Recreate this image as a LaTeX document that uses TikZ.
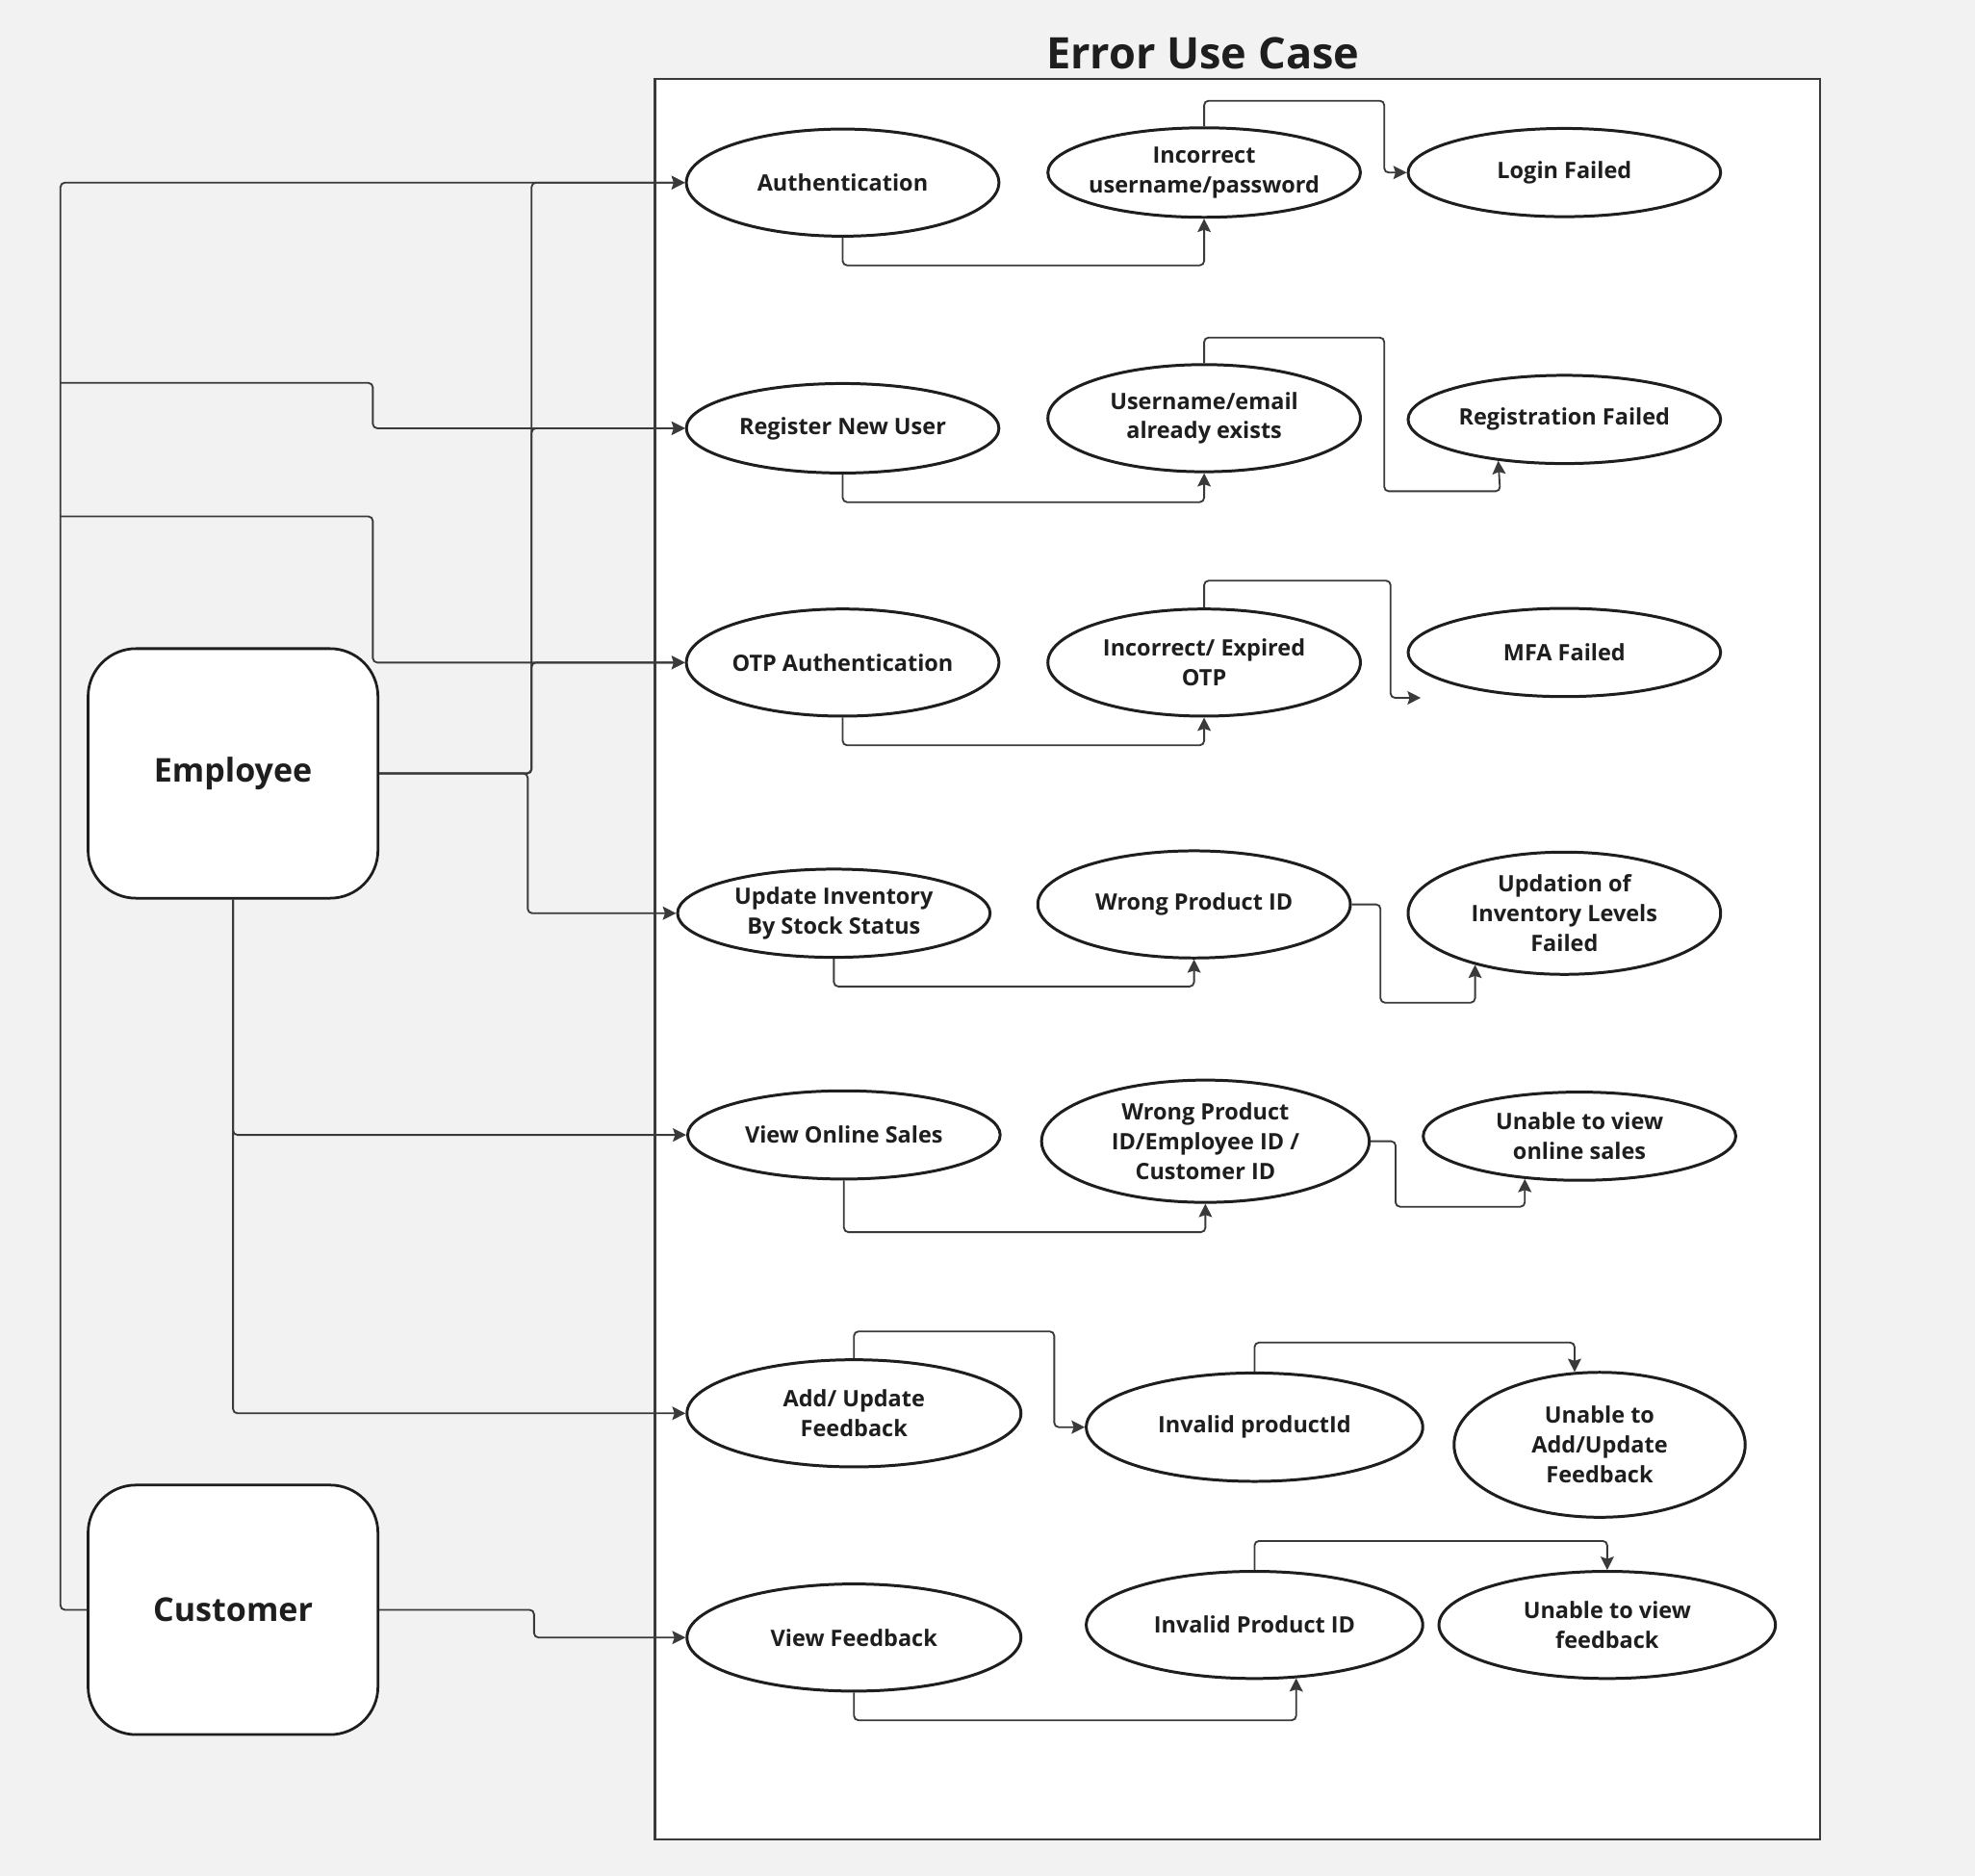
\documentclass[tikz,border=0pt]{standalone}
\usepackage{fontspec}
\setmainfont{Open Sans}
\usetikzlibrary{shapes.geometric,arrows.meta}
\definecolor{bgcol}{HTML}{F2F2F2}
\definecolor{linecol}{HTML}{3A3A3A}
\definecolor{inkcol}{HTML}{1E1E1E}

\begin{document}
\begin{tikzpicture}[x=0.01cm, y=-0.01cm,
  usecase/.style={ellipse, draw=inkcol, line width=0.65pt, fill=white, minimum width=2.48cm, minimum height=0.85cm, inner xsep=-8pt, inner ysep=-5pt, align=center, font=\fontsize{5.1}{6.7}\selectfont\bfseries, text=inkcol},
  actor/.style={rectangle, rounded corners=0.38cm, draw=inkcol, line width=0.6pt, fill=white, minimum width=2.3cm, minimum height=1.98cm, font=\fontsize{7.4}{9}\selectfont\bfseries, text=inkcol},
  link/.style={draw=linecol, line width=0.4pt, rounded corners=1pt, -{Stealth[length=3pt,width=3pt,inset=0.5pt]}}]

\fill[bgcol] (0,0) rectangle (1568,1489);
\useasboundingbox (0,0) rectangle (1568,1489);
% system boundary
\draw[linecol, line width=0.45pt, fill=white] (520,63) rectangle (1445,1460);
\node[font=\fontsize{9.8}{12}\selectfont\bfseries, text=inkcol] (title) at (955,42) {Error Use Case};

% actors
\node[actor] (emp) at (185,614) {Employee};
\node[actor] (cust) at (185,1278) {Customer};

% use cases
\node[usecase] (auth) at (669,145) {Authentication};
\node[usecase, minimum height=0.71cm] (wrongpw) at (956,137) {Incorrect\\username/password};
\node[usecase, minimum height=0.70cm] (loginfail) at (1242,137) {Login Failed};
\node[usecase, minimum height=0.71cm] (reg) at (669,340) {Register New User};
\node[usecase] (exists) at (956,332) {Username/email\\already exists};
\node[usecase, minimum height=0.70cm] (regfail) at (1242,333) {Registration Failed};
\node[usecase] (otp) at (669,526) {OTP Authentication};
\node[usecase] (badotp) at (956,526) {Incorrect/ Expired\\OTP};
\node[usecase, minimum height=0.70cm] (mfafail) at (1242,518) {MFA Failed};
\node[usecase, minimum height=0.70cm] (inv) at (662,725) {Update Inventory\\By Stock Status};
\node[usecase] (wrongid) at (948,718) {Wrong Product ID};
\node[usecase, minimum height=0.97cm] (invfail) at (1242,725) {Updation of\\Inventory Levels\\Failed};
\node[usecase, minimum height=0.70cm] (sales) at (670,901) {View Online Sales};
\node[usecase, minimum width=2.6cm, minimum height=0.97cm] (wrongids) at (957,906) {Wrong Product\\ID/Employee ID /\\Customer ID};
\node[usecase, minimum height=0.70cm] (salesfail) at (1254,902) {Unable to view\\online sales};
\node[usecase, minimum width=2.65cm] (addfb) at (678,1122) {Add/ Update\\Feedback};
\node[usecase, minimum width=2.67cm, minimum height=0.86cm] (badpid) at (996,1133) {Invalid productId};
\node[usecase, minimum width=2.31cm, minimum height=1.15cm] (addfail) at (1270,1147) {Unable to\\Add/Update\\Feedback};
\node[usecase, minimum width=2.65cm] (viewfb) at (678,1300) {View Feedback};
\node[usecase, minimum width=2.67cm] (badpid2) at (996,1290) {Invalid Product ID};
\node[usecase, minimum width=2.67cm] (viewfail) at (1276,1290) {Unable to view\\feedback};

% employee links
\coordinate (ebus) at (422,614);
\draw[link] (emp.east) -- (ebus) |- (auth.west);
\draw[link] (emp.east) -- (ebus) |- (reg.west);
\draw[link] (emp.east) -- (ebus) |- (otp.west);
\draw[link] (emp.east) -- (419,614) |- (inv.west);
\draw[link] (emp.south) |- (sales.west);
\draw[link] (emp.south) |- (addfb.west);

% customer links
\coordinate (cbus) at (48,1278);
\coordinate (ctap1) at (48,304);
\coordinate (ctap2) at (48,410);
\draw[link] (cust.west) -- (cbus) |- (auth.west);
\draw[link] (ctap1) -- (296,304) |- (reg.west);
\draw[link] (ctap2) -- (296,410) |- (otp.west);
\draw[link] (cust.east) -- (424,1278) |- (viewfb.west);

% error paths
\coordinate (mfaend) at (1128,554);
\draw[link] (auth.south) -- ++(0,22) -| (wrongpw.south);
\draw[link] (wrongpw.north) |- (1099,80) |- (loginfail.west);
\draw[link] (reg.south) -- ++(0,22) -| (exists.south);
\draw[link] (exists.north) |- (1099,268) |- (1191,390) -- (regfail.212);
\draw[link] (otp.south) -- ++(0,22) -| (badotp.south);
\draw[link] (badotp.north) |- (1104,461) |- (mfaend);
\draw[link] (inv.south) -- ++(0,22) -| (wrongid.south);
\draw[link] (wrongid.east) -| (1096,796) -| (invfail.210);
\draw[link] (sales.south) -- ++(0,41) -| (wrongids.south);
\draw[link] (wrongids.east) -| (1108,958) -| (salesfail.218);
\draw[link] (addfb.north) |- (837,1057) |- (badpid.west);
\draw[link] (badpid.north) -- ++(0,-23) -| (addfail.109.5);
\draw[link] (viewfb.south) -- ++(0,22) -| (badpid2.308.7);
\draw[link] (badpid2.north) -- ++(0,-23) -| (viewfail.north);
\end{tikzpicture}
\end{document}
